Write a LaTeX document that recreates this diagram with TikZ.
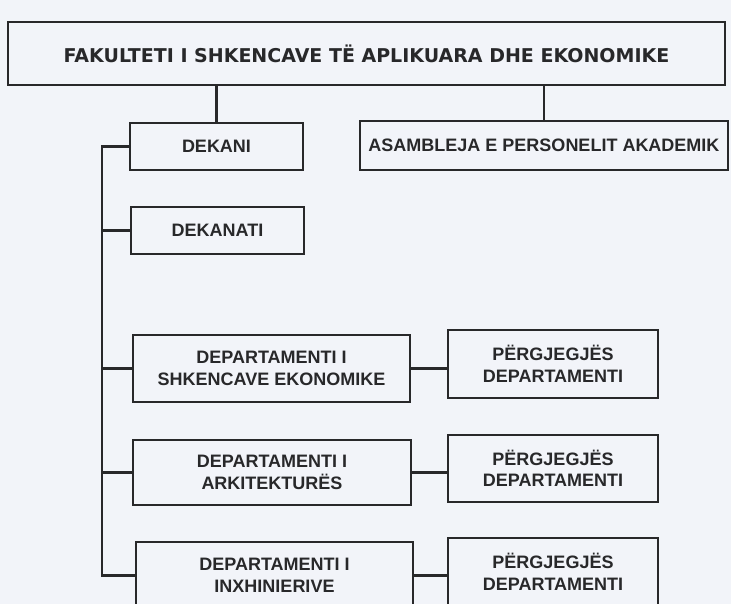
\documentclass[tikz,border=0pt]{standalone}
\usepackage{fontspec}
\setmainfont{Liberation Sans}
\newfontfamily\verdanafont{DejaVu Sans}
\definecolor{ink}{RGB}{40,40,42}
\definecolor{paper}{RGB}{242,244,249}

\tikzset{
  unit/.style={draw=ink, line width=2.8pt, text=ink, align=center, inner sep=0pt,
    font=\bfseries\fontsize{18}{21.5}\selectfont},
  link/.style={draw=ink, line width=2.8pt},
}

\begin{document}
\begin{tikzpicture}[x=1pt,y=-1pt]
    \useasboundingbox (0,0) rectangle (731,604);
    \fill[paper] (0,0) rectangle (731,604);
    \clip (0,0) rectangle (731,604);

    % top level
    \node[unit, minimum width=717, minimum height=63,
      font=\verdanafont\bfseries\fontsize{19}{22}\selectfont] (fakulteti) at (366.5,53.5)
      {FAKULTETI I SHKENCAVE TË APLIKUARA DHE EKONOMIKE};
    \node[unit, minimum width=173, minimum height=47] (dekani) at (216.5,146.5) {DEKANI};
    \node[unit, minimum width=368, minimum height=49] (asambleja) at (544,145.5) {ASAMBLEJA E PERSONELIT AKADEMIK};
    \node[unit, minimum width=173, minimum height=47] (dekanati) at (217.5,230.5) {DEKANATI};

    % departments
    \node[unit, minimum width=277, minimum height=67] (depEko) at (271.5,368.5) {DEPARTAMENTI I\\SHKENCAVE EKONOMIKE};
    \node[unit, minimum width=278, minimum height=65] (depArk) at (272,472.5) {DEPARTAMENTI I\\ARKITEKTURËS};
    \node[unit, minimum width=277, minimum height=67] (depInx) at (274.5,575.5) {DEPARTAMENTI I\\INXHINIERIVE};

    \node[unit, minimum width=210, minimum height=68] (pergjEko) at (553,364) {PËRGJEGJËS\\DEPARTAMENTI};
    \node[unit, minimum width=210, minimum height=67] (pergjArk) at (553,468.5) {PËRGJEGJËS\\DEPARTAMENTI};
    \node[unit, minimum width=210, minimum height=68] (pergjInx) at (553,572) {PËRGJEGJËS\\DEPARTAMENTI};

    \coordinate (bus) at (102,400);

    \draw[link] (fakulteti.south -| dekani.north) -- (dekani.north);
    \draw[link] (fakulteti.south -| asambleja.north) -- (asambleja.north);
    \draw[link] (dekani.west) -| (bus) |- (depInx.west);
    \foreach \n in {dekanati,depEko,depArk}
      \draw[link] (bus |- \n.west) -- (\n.west);
    \foreach \n/\m in {depEko/pergjEko,depArk/pergjArk,depInx/pergjInx}
      \draw[link] (\n.east) -- (\n.east -| \m.west);
\end{tikzpicture}
\end{document}
